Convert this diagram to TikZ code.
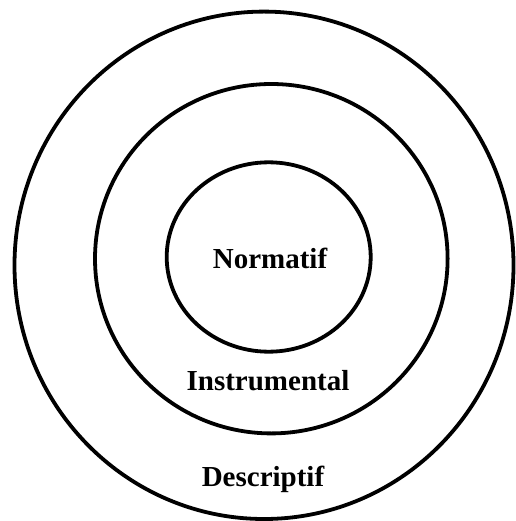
\documentclass[tikz,border=0pt]{standalone}
\usepackage{fontspec}
\setmainfont{Liberation Serif}
\usepackage{tikz}

\begin{document}
\begin{tikzpicture}[x=1pt,y=-1pt,line width=3.8pt]
  \useasboundingbox (0,0) rectangle (515,521);
  \tikzset{lvl/.style={font=\fontsize{29}{34}\selectfont\bfseries,inner sep=0pt}}
  \draw (264,265.3) ellipse (249.5 and 253.7);
  \draw (271.3,258.7) ellipse (176.3 and 174.7);
  \draw (268.7,257) ellipse (102 and 94.7);
  \node[lvl] (norm) at (270,258) {Normatif};
  \node[lvl] (instr) at (268,381) {Instrumental};
  \node[lvl] (descr) at (263,479) {Descriptif};
\end{tikzpicture}
\end{document}
